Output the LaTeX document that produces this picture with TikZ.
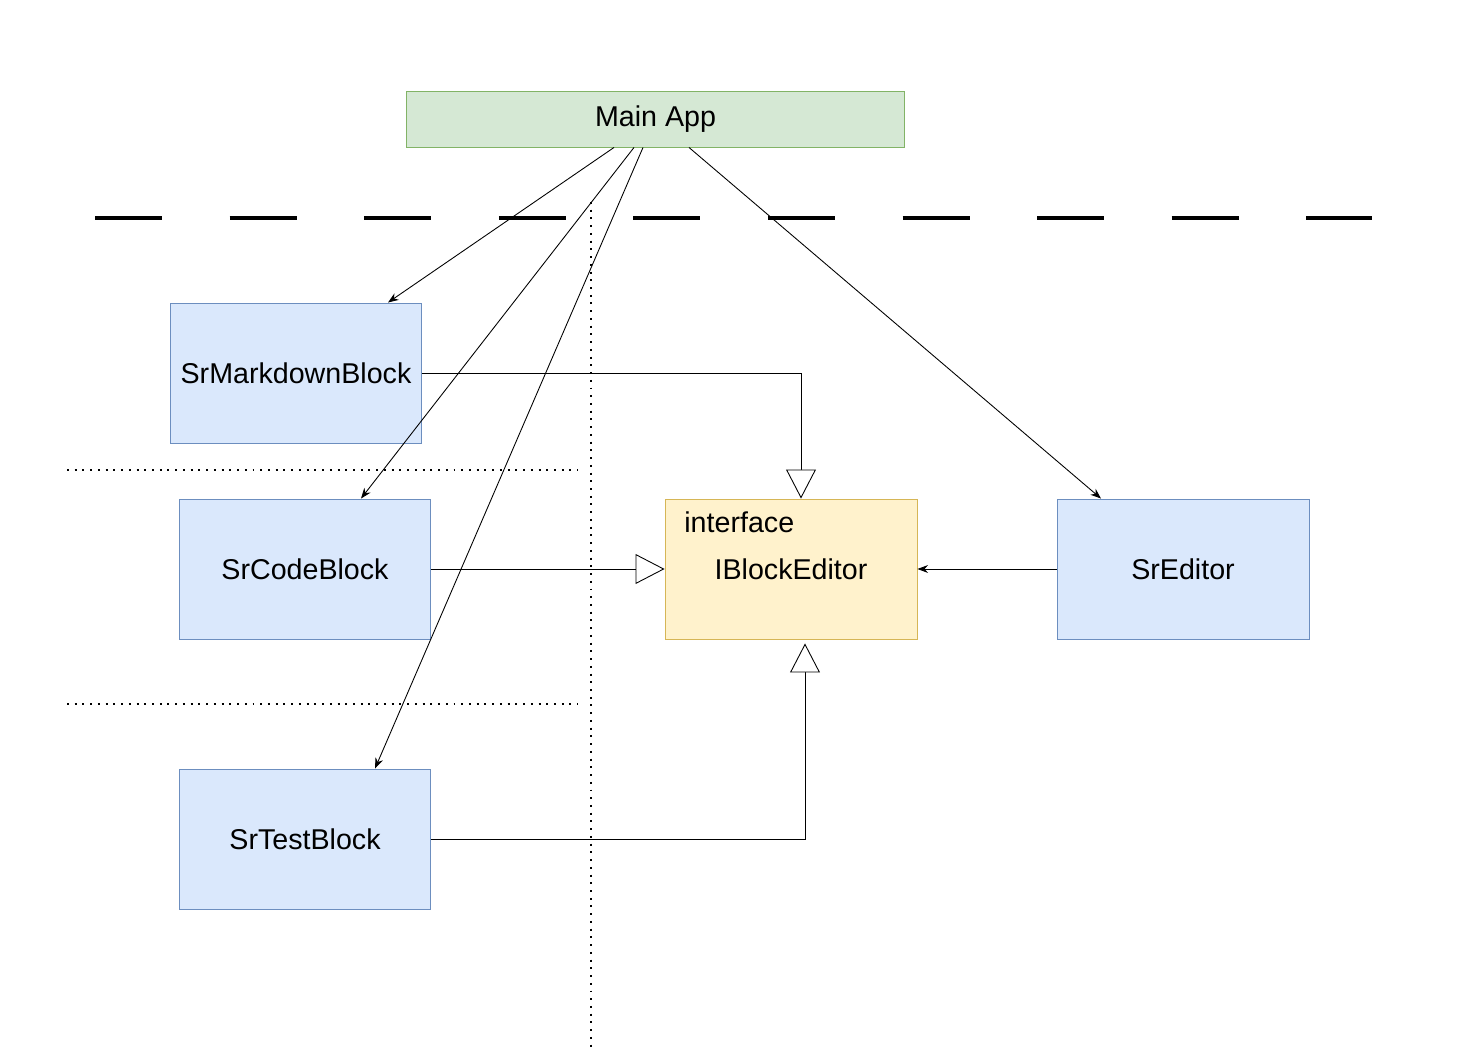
\documentclass[tikz,border=0pt]{standalone}
\usepackage{fontspec}
\setmainfont{Liberation Sans}
\usetikzlibrary{calc,arrows.meta}
\definecolor{appfill}{HTML}{D5E8D4}
\definecolor{appline}{HTML}{82B366}
\definecolor{blkfill}{HTML}{DAE8FC}
\definecolor{blkline}{HTML}{6C8EBF}
\definecolor{iffill}{HTML}{FFF2CC}
\definecolor{ifline}{HTML}{D6B656}
\tikzset{
  box/.style={draw, line width=0.55pt, minimum width=5.04cm, minimum height=2.8cm,
    inner sep=0pt, font=\fontsize{16.3pt}{19pt}\selectfont},
  block/.style={box, fill=blkfill, draw=blkline},
  iface/.style={box, fill=iffill, draw=ifline},
  appbox/.style={box, fill=appfill, draw=appline, minimum width=9.98cm, minimum height=1.12cm},
  wire/.style={line width=0.5pt},
  uses/.style={wire, -{Stealth[length=6pt,width=4.5pt]}},
  impl/.style={wire, -{Triangle[open,length=16.5pt,width=17pt,fill=white]}},
  zone/.style={line width=1.1pt, dash pattern=on 1.1pt off 3.3pt},
  tier/.style={line width=2.8pt, dash pattern=on 38.2pt off 38.4pt}
}
\begin{document}
\begin{tikzpicture}[x=0.02cm,y=-0.02cm]
\useasboundingbox (0,0) rectangle (1476,1047);

% layer separators
\draw[tier] (95,218) -- (1372,218);
\draw[zone] (591,202) -- (591,1047);
\draw[zone] (67,470) -- (578,470);
\draw[zone] (67,704) -- (578,704);

% components
\node[appbox] (main) at (655.5,119) {Main App};
\node[block] (srmd) at (296,373) {SrMarkdownBlock};
\node[block] (srcode) at (305,569) {SrCodeBlock};
\node[block] (srtest) at (305,839) {SrTestBlock};
\node[iface] (ibe) at (791,569) {IBlockEditor};
\node[anchor=west, inner sep=0pt, font=\fontsize{16.3pt}{19pt}\selectfont] (ifkw) at (684,522) {interface};
\node[block] (sred) at (1183,569) {SrEditor};

% Main App uses
\draw[uses] ($(main.south)+(-41.5,0)$) -- ($(srmd.north)+(92,0)$);
\draw[uses] ($(main.south)+(-21.5,0)$) -- ($(srcode.north)+(56,0)$);
\draw[uses] ($(main.south)+(-12.5,0)$) -- ($(srtest.north)+(70,0)$);
\draw[uses] ($(main.south)+(33.5,0)$) -- ($(sred.north)+(-82,0)$);

% implementations of the interface
\draw[impl] (srmd.east) -| ($(ibe.north)+(10,0)$);
\draw[impl] (srcode.east) -- (ibe.west);
\draw[impl] (srtest.east) -| ($(ibe.south)+(14,4)$);

% editor depends on the interface
\draw[uses] (sred.west) -- (ibe.east);
\end{tikzpicture}
\end{document}
